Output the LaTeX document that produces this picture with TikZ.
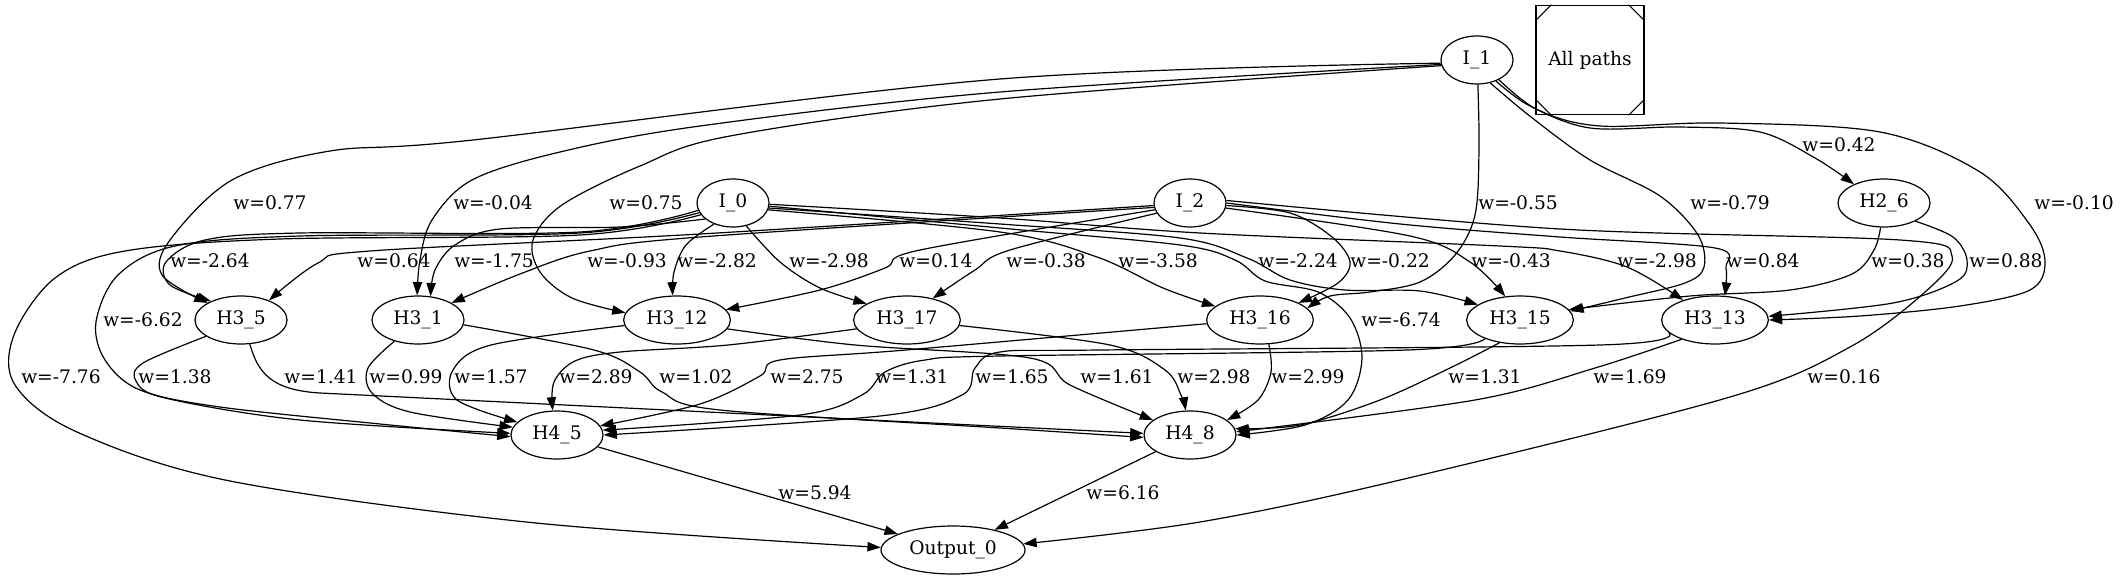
\documentclass[tikz,border=0pt]{standalone}
\usepackage{fontspec}
\setmainfont{DejaVu Serif}
\usetikzlibrary{shapes.geometric,arrows.meta}
\begin{document}
\begin{tikzpicture}[x=0.75pt,y=-0.75pt,
  font=\fontsize{14pt}{16pt}\selectfont,
  nd/.style={draw, ellipse, line width=0.9pt, inner sep=0pt, minimum height=36pt},
  ni/.style={nd, minimum width=54pt},
  ns/.style={nd, minimum width=69pt},
  nw/.style={nd, minimum width=80pt},
  no/.style={nd, minimum width=108pt},
  lb/.style={inner sep=0pt},
  edge/.style={line width=0.9pt, -{Triangle[length=10pt,width=7pt]}},
  sm/.style={smooth, tension=0.55}
]
\useasboundingbox (0,0) rectangle (2122,581);
% nodes
\node[ni] (I1) at (1477,60) {I\_1};
\node[draw, line width=0.9pt, minimum width=81pt, minimum height=82pt, inner sep=0pt] (AP) at (1590,60) {All paths};
\draw[line width=0.7pt] ([yshift=-12pt]AP.north west) -- ([xshift=12pt]AP.north west);
\draw[line width=0.7pt] ([yshift=-12pt]AP.north east) -- ([xshift=-12pt]AP.north east);
\draw[line width=0.7pt] ([yshift=12pt]AP.south west) -- ([xshift=12pt]AP.south west);
\draw[line width=0.7pt] ([yshift=12pt]AP.south east) -- ([xshift=-12pt]AP.south east);
\node[ni] (I0) at (733,203) {I\_0};
\node[ni] (I2) at (1190,203) {I\_2};
\node[ns] (H26) at (1884,203) {H2\_6};
\node[ns] (H35) at (241,320) {H3\_5};
\node[ns] (H31) at (418,320) {H3\_1};
\node[nw] (H312) at (677,320) {H3\_12};
\node[nw] (H317) at (907,320) {H3\_17};
\node[nw] (H316) at (1260,320) {H3\_16};
\node[nw] (H315) at (1520,320) {H3\_15};
\node[nw] (H313) at (1715,320) {H3\_13};
\node[ns] (H45) at (557,435) {H4\_5};
\node[ns] (H48) at (1190,435) {H4\_8};
\node[no] (Out) at (953,550) {Output\_0};

% edges from I_1
\draw[edge] plot[sm] coordinates {(I1.185) (1000,79) (473,140) (330,151) (232,180) (170,240) (162,275) (H35.153)};
\draw[edge] plot[sm] coordinates {(I1.187) (1000,92) (700,126) (560,152) (472,180) (432,220) (420,260) (H31.92)};
\draw[edge] plot[sm] coordinates {(I1.189) (1000,99) (730,136) (640,166) (562,205) (533,240) (540,272) (572,298) (H312.172)};
\draw[edge] plot[sm] coordinates {(I1.272) (1479,150) (1475,215) (1455,255) (1420,282) (1370,292) (1330,296) (H316.14)};
\draw[edge] plot[sm] coordinates {(I1.300) (1531,117) (1590,160) (1660,196) (1698,235) (1704,267) (1685,283) (1625,298) (H315.10)};
\draw[edge] plot[sm] coordinates {(I1.312) (1530,106) (1590,128) (1680,127) (1760,132) (1815,158) (H26.148)};
\draw[edge] plot[sm] coordinates {(I1.318) (1538,110) (1600,126) (1720,123) (1880,132) (1980,172) (2030,225) (2045,262) (2030,290) (1960,306) (1860,316) (H313.0)};

% edges from I_0
\draw[edge] plot[sm] coordinates {(I0.192) (580,232) (300,233) (205,240) (166,262) (170,285) (H35.148)};
\draw[edge] plot[sm] coordinates {(I0.196) (580,233) (300,236) (175,246) (118,275) (96,322) (105,360) (140,390) (220,407) (380,424) (H45.182)};
\draw[edge] plot[sm] coordinates {(I0.200) (580,235) (280,239) (125,251) (55,278) (14,335) (15,385) (77,432) (230,481) (536,523) (Out.178)};
\draw[edge] plot[sm] coordinates {(I0.210) (620,227) (500,229) (455,245) (435,270) (H31.62)};
\draw[edge] plot[sm] coordinates {(I0.228) (686,245) (674,272) (H312.100)};
\draw[edge] plot[sm] coordinates {(I0.300) (780,262) (820,288) (H317.158)};
\draw[edge] plot[sm] coordinates {(I0.349) (1000,232) (1097,257) (1163,288) (H316.163)};
\draw[edge] plot[sm] coordinates {(I0.352) (1000,224) (1180,238) (1247,258) (1290,280) (1345,290) (1420,291) (H315.160)};
\draw[edge] plot[sm] coordinates {(I0.355) (1000,228) (1180,245) (1235,260) (1265,281) (1318,292) (1350,318) (1362,358) (1348,400) (1305,425) (H48.0)};
\draw[edge] plot[sm] coordinates {(I0.358) (1000,218) (1200,233) (1500,246) (1560,251) (1627,267) (H313.148)};

% edges from I_2
\draw[edge] plot[sm] coordinates {(I2.184) (700,234) (370,251) (318,263) (H35.35)};
\draw[edge] plot[sm] coordinates {(I2.187) (700,237) (590,251) (520,274) (H31.27)};
\draw[edge] plot[sm] coordinates {(I2.191) (920,250) (885,268) (820,290) (H312.12)};
\draw[edge] plot[sm] coordinates {(I2.197) (1010,250) (975,270) (H317.40)};
\draw[edge] plot[sm] coordinates {(I2.356) (1290,213) (1332,237) (1350,262) (1338,283) (H316.24)};
\draw[edge] plot[sm] coordinates {(I2.352) (1410,236) (1470,262) (H315.122)};
\draw[edge] plot[sm] coordinates {(I2.0) (1400,224) (1560,237) (1715,248) (1726,268) (H313.68)};
\draw[edge] plot[sm] coordinates {(I2.4) (1560,229) (1900,240) (1952,256) (1925,292) (1850,347) (1730,397) (1400,480) (1200,522) (Out.5)};

% edges from H2_6
\draw[edge] plot[sm] coordinates {(H26.262) (1874,250) (1852,274) (1790,290) (1690,296) (H315.12)};
\draw[edge] plot[sm] coordinates {(H26.330) (1953,237) (1967,260) (1957,281) (1893,303) (H313.4)};

% edges H3 -> H4
\draw[edge] plot[sm] coordinates {(H35.205) (143,363) (136,381) (165,398) (300,420) (H45.178)};
\draw[edge] (H35.290) .. controls (258,372) and (270,390) .. (320,393) -- (H48.178);
\draw[edge] plot[sm] coordinates {(H31.222) (368,368) (372,393) (410,412) (H45.170)};
\draw[edge] plot[sm] coordinates {(H31.354) (594,350) (640,372) (662,392) (720,410) (1000,428) (H48.183)};
\draw[edge] plot[sm] coordinates {(H312.186) (491,345) (453,370) (457,400) (H45.162)};
\draw[edge] plot[sm] coordinates {(H312.350) (855,345) (1030,358) (1070,385) (H48.158)};
\draw[edge] plot[sm] coordinates {(H317.190) (728,345) (620,352) (575,361) (554,382) (H45.100)};
\draw[edge] plot[sm] coordinates {(H317.354) (1110,345) (1165,370) (1181,395) (H48.100)};
\draw[edge] plot[sm] coordinates {(H316.184) (906,350) (780,360) (760,376) (700,404) (H45.12)};
\draw[edge] plot[sm] coordinates {(H316.290) (1271,372) (1258,400) (H48.22)};
\draw[edge] plot[sm] coordinates {(H315.208) (1407,350) (1000,356) (925,360) (885,372) (862,395) (800,415) (H45.6)};
\draw[edge] plot[sm] coordinates {(H313.195) (1600,345) (1100,350) (1000,352) (975,368) (962,395) (880,416) (H45.0)};
\draw[edge] plot[sm] coordinates {(H315.228) (1452,367) (1380,400) (1300,425) (H48.8)};
\draw[edge] plot[sm] coordinates {(H313.210) (1595,368) (1475,400) (H48.4)};

% H4 -> Out
\draw[edge] (H45) -- (Out);
\draw[edge] (H48) -- (Out);

% labels
\node[lb] (l01) at (1839,145) {w=0.42};
\node[lb] (l02) at (270,203) {w=0.77};
\node[lb] (l03) at (493,203) {w=-0.04};
\node[lb] (l04) at (646,203) {w=0.75};
\node[lb] (l05) at (1518,203) {w=-0.55};
\node[lb] (l06) at (1730,203) {w=-0.79};
\node[lb] (l07) at (2074,203) {w=-0.10};
\node[lb] (l08) at (210,261) {w=-2.64};
\node[lb] (l09) at (394,261) {w=0.64};
\node[lb] (l10) at (494,261) {w=-1.75};
\node[lb] (l11) at (627,261) {w=-0.93};
\node[lb] (l12) at (717,261) {w=-2.82};
\node[lb] (l13) at (829,261) {w=-2.98};
\node[lb] (l14) at (936,261) {w=0.14};
\node[lb] (l15) at (1046,261) {w=-0.38};
\node[lb] (l16) at (1158,261) {w=-3.58};
\node[lb] (l17) at (1298,261) {w=-2.24};
\node[lb] (l18) at (1390,261) {w=-0.22};
\node[lb] (l19) at (1511,261) {w=-0.43};
\node[lb] (l20) at (1657,261) {w=-2.98};
\node[lb] (l21) at (1763,261) {w=0.84};
\node[lb] (l22) at (1908,261) {w=0.38};
\node[lb] (l23) at (2006,261) {w=0.88};
\node[lb] (l24) at (143,320) {w=-6.62};
\node[lb] (l25) at (1401,320) {w=-6.74};
\node[lb] (l26) at (61,377) {w=-7.76};
\node[lb] (l27) at (175,377) {w=1.38};
\node[lb] (l28) at (321,377) {w=1.41};
\node[lb] (l29) at (406,377) {w=0.99};
\node[lb] (l30) at (491,377) {w=1.57};
\node[lb] (l31) at (596,377) {w=2.89};
\node[lb] (l32) at (696,377) {w=1.02};
\node[lb] (l33) at (807,377) {w=2.75};
\node[lb] (l34) at (912,377) {w=1.31};
\node[lb] (l35) at (1012,377) {w=1.65};
\node[lb] (l36) at (1117,377) {w=1.61};
\node[lb] (l37) at (1214,377) {w=2.98};
\node[lb] (l38) at (1308,377) {w=2.99};
\node[lb] (l39) at (1485,377) {w=1.31};
\node[lb] (l40) at (1630,377) {w=1.69};
\node[lb] (l41) at (1844,377) {w=0.16};
\node[lb] (l42) at (815,493) {w=5.94};
\node[lb] (l43) at (1123,493) {w=6.16};
\end{tikzpicture}
\end{document}
